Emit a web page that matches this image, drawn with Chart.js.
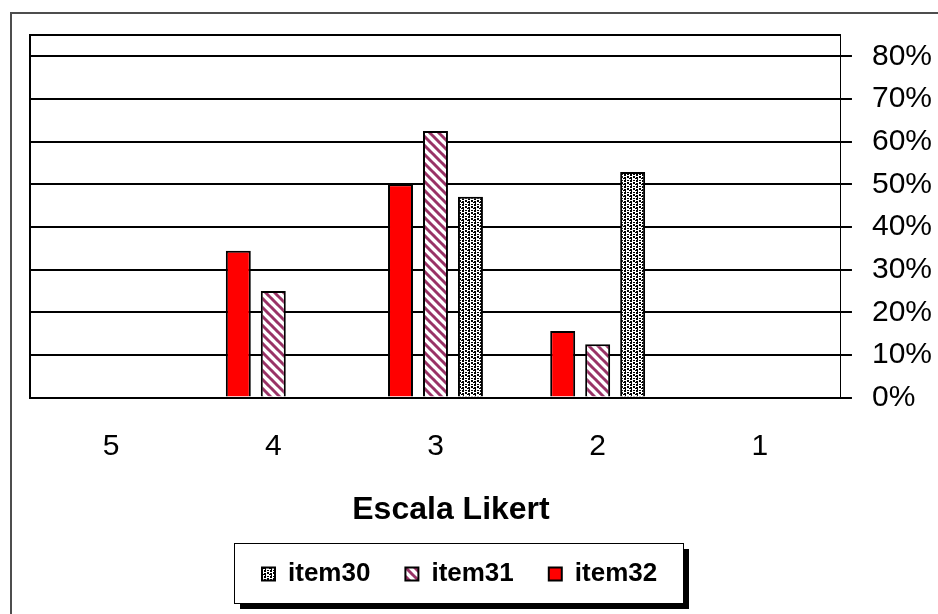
<!DOCTYPE html>
<html lang="pt">
<head>
<meta charset="UTF-8">
<title>Escala Likert</title>
<script src="https://cdn.jsdelivr.net/npm/chart.js@4.4.1/dist/chart.umd.min.js"></script>
<style>
    html, body { margin: 0; padding: 0; background: #fff; }
    #wrap { width: 938px; height: 614px; position: relative; }
</style>
</head>
<body>
<div id="wrap"><canvas id="likertChart"></canvas></div>
<script>
    const categories = ['5', '4', '3', '2', '1'];
    const item30 = [0, 0, 47.1, 52.9, 0];
    const item31 = [0, 25, 62.5, 12.5, 0];
    const item32 = [0, 34.4, 50, 15.6, 0];
    const yTicks = [0, 10, 20, 30, 40, 50, 60, 70, 80];
    const axisTitle = 'Escala Likert';

    const FONT = "'Liberation Sans', Arial, sans-serif";

    // diagonal stripes, like the excel fill of item31
    const makeHatch = () => {
        const c = document.createElement('canvas');
        c.width = 9; c.height = 9;
        const g = c.getContext('2d');
        g.fillStyle = '#fff';
        g.fillRect(0, 0, 9, 9);
        g.strokeStyle = '#993366';
        g.lineWidth = 3;
        for (const o of [-9, 0, 9]) {
            g.beginPath();
            g.moveTo(o - 1, -1);
            g.lineTo(o + 10, 10);
            g.stroke();
        }
        return g.createPattern(c, 'repeat');
    }

    // black specks on white for item30
    const makeDots = () => {
        const c = document.createElement('canvas');
        c.width = 6; c.height = 6;
        const g = c.getContext('2d');
        g.fillStyle = '#fff';
        g.fillRect(0, 0, 6, 6);
        g.fillStyle = '#000';
        [[0, 0, 2, 2], [3, 0, 2, 1], [3, 2, 2, 2], [0, 3, 2, 2], [1, 5, 1, 1], [5, 4, 1, 1]].forEach(r => g.fillRect(...r));
        return g.createPattern(c, 'repeat');
    }

    const LEGEND_FRAME = { x: 234, y: 543, w: 449, h: 60 };

    const framePlugin = {
        id: 'frame',
        afterLayout(chart) {
            const lg = chart.legend;
            lg.left = 159.6; lg.right = 759.6; lg.width = 600;
            lg.top = 526; lg.bottom = lg.top + lg.height;
            const tb = chart.titleBlock;
            tb.left = 251; tb.right = 651; tb.width = 400;
            tb.top = 490.8; tb.bottom = tb.top + tb.height;
        },
        beforeDraw(chart) {
            const ctx = chart.ctx;
            const f = LEGEND_FRAME;
            ctx.save();
            ctx.strokeStyle = '#4d4d4d';
            ctx.lineWidth = 2;
            ctx.beginPath();
            ctx.moveTo(11, chart.height);
            ctx.lineTo(11, 13);
            ctx.lineTo(chart.width, 13);
            ctx.stroke();
            ctx.fillStyle = '#000';
            ctx.fillRect(f.x + 6, f.y + 6, f.w, f.h);
            ctx.fillStyle = '#fff';
            ctx.fillRect(f.x, f.y, f.w, f.h);
            ctx.strokeStyle = '#000';
            ctx.lineWidth = 1;
            ctx.strokeRect(f.x + 0.5, f.y + 0.5, f.w, f.h);
            ctx.restore();
        },
        beforeDatasetsDraw(chart) {
            const { ctx, chartArea: a } = chart;
            ctx.save();
            ctx.strokeStyle = '#000';
            ctx.lineWidth = 2;
            ctx.beginPath();
            ctx.moveTo(a.left, a.bottom);
            ctx.lineTo(a.left, a.top);
            ctx.lineTo(a.right, a.top);
            ctx.stroke();
            ctx.restore();
        }
    };

    new Chart(document.getElementById('likertChart'), {
        type: 'bar',
        data: {
            labels: categories,
            datasets: [
                { label: 'item32', data: item32, backgroundColor: '#ff0000', borderColor: '#000', borderWidth: 2 },
                { label: 'item31', data: item31, backgroundColor: makeHatch(), borderColor: '#000', borderWidth: 2 },
                { label: 'item30', data: item30, backgroundColor: makeDots(), borderColor: '#000', borderWidth: 2 },
            ],
        },
        options: {
            responsive: true,
            maintainAspectRatio: false,
            animation: false,
            categoryPercentage: 0.647,
            barPercentage: 0.714,
            layout: { padding: { left: 30, top: 35, right: 6, bottom: 17 } },
            scales: {
                x: {
                    grid: { display: false },
                    border: { display: true, color: '#000', width: 2 },
                    ticks: { color: '#000', font: { family: FONT, size: 30 }, padding: 23 },
                },
                y: {
                    position: 'right',
                    min: 0,
                    max: 85,
                    afterBuildTicks: scale => { scale.ticks = yTicks.map(v => ({ value: v })); },
                    // chart.js counts the tick padding twice when sizing a vertical axis
                    afterFit: scale => { scale.width -= scale.options.ticks.padding; },
                    grid: { color: '#000', lineWidth: 2, tickLength: 11 },
                    border: { display: true, color: '#000', width: 1 },
                    ticks: { color: '#000', font: { family: FONT, size: 30, lineHeight: 1 }, padding: 20, callback: v => v + '%' },
                },
            },
            plugins: {
                legend: {
                    position: 'bottom',
                    reverse: true,
                    labels: {
                        boxWidth: 13,
                        boxHeight: 13,
                        padding: 35,
                        color: '#000',
                        font: { family: FONT, size: 26, weight: 'bold' },
                    },
                },
                title: {
                    display: true,
                    position: 'bottom',
                    text: axisTitle,
                    color: '#000',
                    font: { family: FONT, size: 32, weight: 'bold' },
                    padding: 0,
                },
                tooltip: { enabled: false },
            },
        },
        plugins: [framePlugin],
    });
</script>
</body>
</html>
